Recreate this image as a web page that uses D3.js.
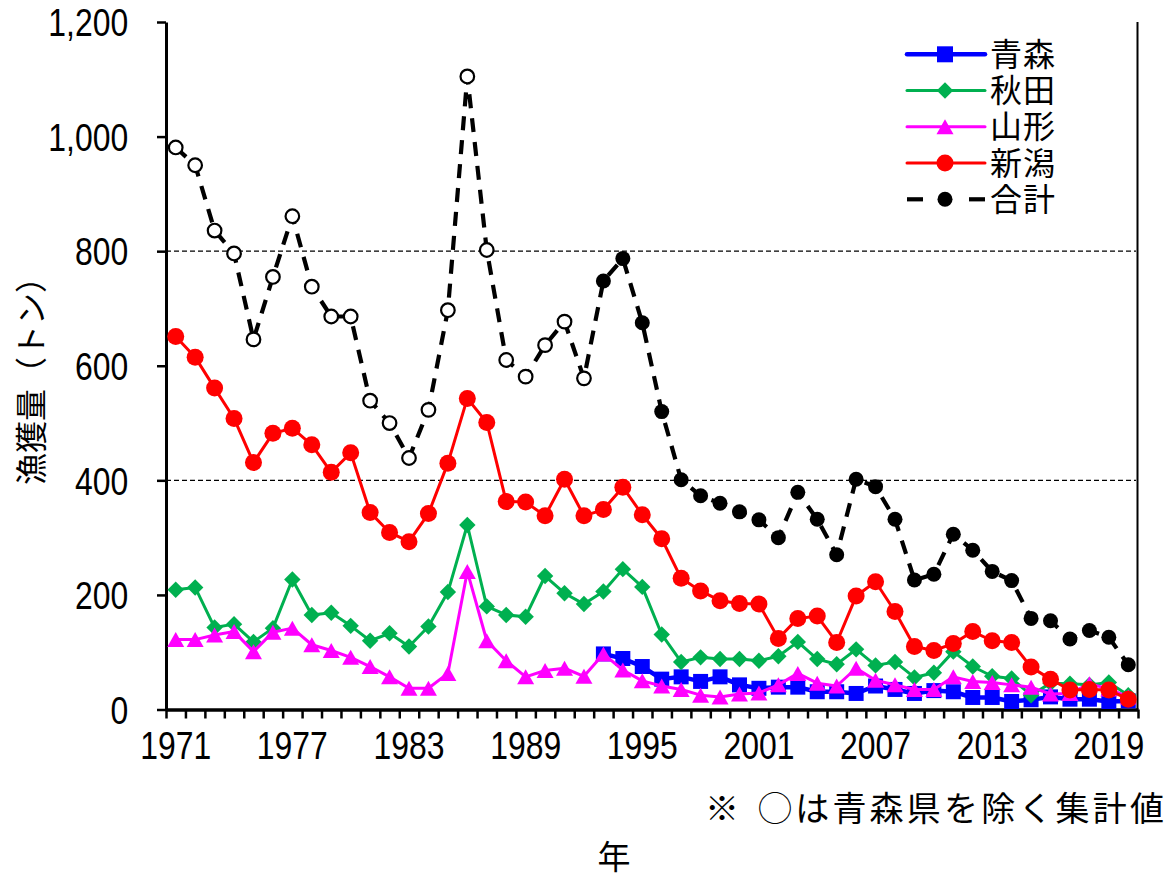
<!DOCTYPE html>
<html><head><meta charset="utf-8">
<script src="https://cdn.jsdelivr.net/npm/d3@7"></script>
<style>html,body{margin:0;padding:0;background:#fff;} svg{display:block}</style>
</head><body><svg id="c" width="1172" height="882"></svg>
<script>
// ---- data ----
const years = [1971,1972,1973,1974,1975,1976,1977,1978,1979,1980,
  1981,1982,1983,1984,1985,1986,1987,1988,1989,1990,
  1991,1992,1993,1994,1995,1996,1997,1998,1999,2000,
  2001,2002,2003,2004,2005,2006,2007,2008,2009,2010,
  2011,2012,2013,2014,2015,2016,2017,2018,2019,2020];
const xLabelYears = [1971,1977,1983,1989,1995,2001,2007,2013,2019];
const yTicks = [0,200,400,600,800,1000,1200];
const gridValues = [400,800];
const seriesNames = ["青森","秋田","山形","新潟","合計"];
const aomori = [null,null,null,null,null,null,null,null,null,null,
  null,null,null,null,null,null,null,null,null,null,
  null,null,97,89,75,53,57,49,57,43,
  37,39,39,31,31,28,41,35,28,33,
  31,21,21,14,17,22,18,18,14,15];
const akita = [209,213,143,149,118,142,227,165,169,146,
  120,133,110,145,205,322,180,165,162,233,
  203,184,206,245,214,131,83,91,88,88,
  85,93,118,88,79,105,77,83,56,64,
  101,75,58,54,25,46,45,43,47,25];
const yamagata = [122,122,130,136,101,135,142,113,103,91,
  75,57,37,37,63,241,120,85,57,68,
  72,58,97,69,50,41,35,25,22,27,
  29,43,63,46,41,72,51,43,35,35,
  57,49,47,43,39,27,28,45,36,22];
const niigata = [651,615,561,508,431,482,491,462,414,448,
  344,309,293,342,430,543,501,363,362,338,
  402,338,349,388,340,298,229,207,190,185,
  184,124,159,163,117,198,223,171,110,103,
  115,136,120,117,74,53,34,35,34,18];
const total = [981,950,836,796,646,755,861,738,686,686,
  539,500,439,523,697,1105,802,610,581,636,
  677,578,748,787,675,520,401,373,360,345,
  331,300,379,332,270,402,389,332,226,236,
  306,278,241,225,159,155,123,138,126,78];
const firstAomoriYear = 1993; // years before this: total excludes Aomori (hollow markers)
const noteMark = "※";
const noteText = "◯は青森県を除く集計値";

// ---- layout ----
const L = 166, R = 1138, T = 22, B = 709.5;
const svg = d3.select("#c");
const x = d3.scaleBand().domain(years).range([L, R]).paddingInner(0).paddingOuter(0);
const xEdge = d3.scaleLinear().domain([0, years.length]).range([L, R]);
const y = d3.scaleLinear().domain([0, 1200]).range([B, T]);
const cx = d => x(d) + x.bandwidth() / 2;
const numFont = "'Liberation Sans', Arial, sans-serif";
const cjkFont = "'Noto Sans CJK JP', 'Noto Sans', sans-serif";

// gridlines
svg.append("g").selectAll("line").data(gridValues).join("line")
  .attr("x1", L).attr("x2", R - 2).attr("y1", d => y(d)).attr("y2", d => y(d))
  .attr("stroke", "#000").attr("stroke-width", 1.3).attr("stroke-dasharray", "5 3");

// right border
svg.append("line").attr("x1", R - 0.5).attr("x2", R - 0.5).attr("y1", T).attr("y2", B)
  .attr("stroke", "#000").attr("stroke-width", 2);

// x axis ticks
const gx = svg.append("g").attr("transform", `translate(0,${B})`)
  .call(d3.axisBottom(xEdge).tickValues(d3.range(years.length + 1)).tickSize(9).tickSizeOuter(0).tickFormat(""));
gx.select(".domain").attr("stroke-width", 3.5);
gx.selectAll(".tick line").attr("stroke-width", 2.5);
// x labels
const gxl = svg.append("g").attr("transform", `translate(0,${B})`)
  .call(d3.axisBottom(x).tickValues(xLabelYears).tickSize(0).tickFormat(d => String(d)));
gxl.select(".domain").remove();
gxl.selectAll("text").attr("y", 50).attr("dy", 0)
  .attr("font-family", numFont).attr("font-size", 38).attr("fill", "#000")
  .attr("transform", "scale(0.84,1)");

// y axis
const gy = svg.append("g").attr("transform", `translate(${L},0)`)
  .call(d3.axisLeft(y).tickValues(yTicks).tickSize(9).tickSizeOuter(0).tickFormat(d3.format(",")));
gy.select(".domain").attr("stroke-width", 3);
gy.selectAll(".tick line").attr("stroke-width", 2.5);
gy.selectAll("text").attr("x", -45).attr("dy", "0.36em")
  .attr("font-family", numFont).attr("font-size", 38).attr("fill", "#000")
  .attr("transform", "scale(0.84,1)");

// marker helpers
const triPath = (w, h) => `M0,${-h/2}L${w/2},${h/2}L${-w/2},${h/2}Z`;
const sqSym = d3.symbol(d3.symbolSquare, 225)();
const diaSym = d3.symbol(d3.symbolSquare, 135)();
const circSym = d3.symbol(d3.symbolCircle, Math.PI * 8.5 * 8.5)();

function drawSeries(vals, color, width, marker) {
  const data = years.map((yr, i) => ({ yr, v: vals[i] })).filter(d => d.v != null);
  const g = svg.append("g");
  g.append("path").datum(data)
    .attr("d", d3.line().x(d => cx(d.yr)).y(d => y(d.v)))
    .attr("fill", "none").attr("stroke", color).attr("stroke-width", width)
    .attr("stroke-linejoin", "round");
  const m = g.selectAll(".m").data(data).join("path").attr("class", "m").attr("fill", color);
  if (marker === "square") m.attr("d", sqSym).attr("transform", d => `translate(${cx(d.yr)},${y(d.v)})`);
  if (marker === "diamond") m.attr("d", diaSym).attr("transform", d => `translate(${cx(d.yr)},${y(d.v)}) rotate(45)`);
  if (marker === "triangle") m.attr("d", triPath(17, 15)).attr("transform", d => `translate(${cx(d.yr)},${y(d.v)})`);
  if (marker === "circle") m.attr("d", circSym).attr("transform", d => `translate(${cx(d.yr)},${y(d.v)})`);
}
drawSeries(aomori, "#0000FF", 4.5, "square");
drawSeries(akita, "#00B050", 3, "diamond");
drawSeries(yamagata, "#FF00FF", 3, "triangle");
drawSeries(niigata, "#FF0000", 3, "circle");

// total (dashed)
{
  const data = years.map((yr, i) => ({ yr, v: total[i] }));
  const g = svg.append("g");
  g.append("path").datum(data)
    .attr("d", d3.line().x(d => cx(d.yr)).y(d => y(d.v)))
    .attr("fill", "none").attr("stroke", "#000").attr("stroke-width", 4.2)
    .attr("stroke-dasharray", "14 10");
  g.selectAll("circle").data(data).join("circle")
    .attr("cx", d => cx(d.yr)).attr("cy", d => y(d.v))
    .attr("r", d => d.yr < firstAomoriYear ? 6.8 : 7.5)
    .attr("fill", d => d.yr < firstAomoriYear ? "#fff" : "#000")
    .attr("stroke", "#000").attr("stroke-width", d => d.yr < firstAomoriYear ? 2.2 : 0);
}

// legend
const legY = d3.scalePoint().domain(seriesNames).range([54.3, 199.3]);
const legCfg = {
  "青森": { color: "#0000FF", w: 4.5, marker: "square" },
  "秋田": { color: "#00B050", w: 3, marker: "diamond" },
  "山形": { color: "#FF00FF", w: 3, marker: "triangle" },
  "新潟": { color: "#FF0000", w: 3, marker: "circle" },
  "合計": { color: "#000", w: 4.2, marker: "dot" }
};
const lx1 = 907, lx2 = 985, lmx = 945;
const lg = svg.append("g");
seriesNames.forEach(name => {
  const c = legCfg[name], yy = legY(name);
  if (c.marker === "dot") {
    lg.append("line").attr("x1", lx1).attr("x2", lx1 + 16).attr("y1", yy).attr("y2", yy).attr("stroke", "#000").attr("stroke-width", c.w);
    lg.append("line").attr("x1", lx2 - 16).attr("x2", lx2).attr("y1", yy).attr("y2", yy).attr("stroke", "#000").attr("stroke-width", c.w);
    lg.append("circle").attr("cx", lmx).attr("cy", yy).attr("r", 7.5).attr("fill", "#000");
  } else {
    lg.append("line").attr("x1", lx1).attr("x2", lx2).attr("y1", yy).attr("y2", yy).attr("stroke", c.color).attr("stroke-width", c.w).attr("stroke-linecap", "round");
    const p = lg.append("path").attr("fill", c.color);
    if (c.marker === "square") p.attr("d", d3.symbol(d3.symbolSquare, 256)()).attr("transform", `translate(${lmx},${yy})`);
    if (c.marker === "diamond") p.attr("d", diaSym).attr("transform", `translate(${lmx},${yy}) rotate(45)`);
    if (c.marker === "triangle") p.attr("d", triPath(17, 15)).attr("transform", `translate(${lmx},${yy})`);
    if (c.marker === "circle") p.attr("d", circSym).attr("transform", `translate(${lmx},${yy})`);
  }
  lg.append("text").attr("x", 990).attr("y", yy).attr("dy", "0.36em")
    .attr("font-family", cjkFont).attr("font-size", 32).attr("letter-spacing", 1).attr("fill", "#000").text(name);
});

// titles
svg.append("text").attr("transform", "translate(43,373) rotate(-90)")
  .attr("text-anchor", "middle").attr("font-family", cjkFont).attr("font-size", 32).attr("fill", "#000")
  .text("漁獲量（トン）");
svg.append("text").attr("x", 614).attr("y", 869).attr("text-anchor", "middle")
  .attr("font-family", cjkFont).attr("font-size", 33).attr("fill", "#000").text("年");
svg.append("text").attr("x", 705).attr("y", 821)
  .attr("font-family", cjkFont).attr("font-size", 34).attr("fill", "#000").text(noteMark);
svg.append("text").attr("x", 758).attr("y", 821)
  .attr("font-family", cjkFont).attr("font-size", 34).attr("letter-spacing", 3.2).attr("fill", "#000").text(noteText);
</script>
</body></html>
